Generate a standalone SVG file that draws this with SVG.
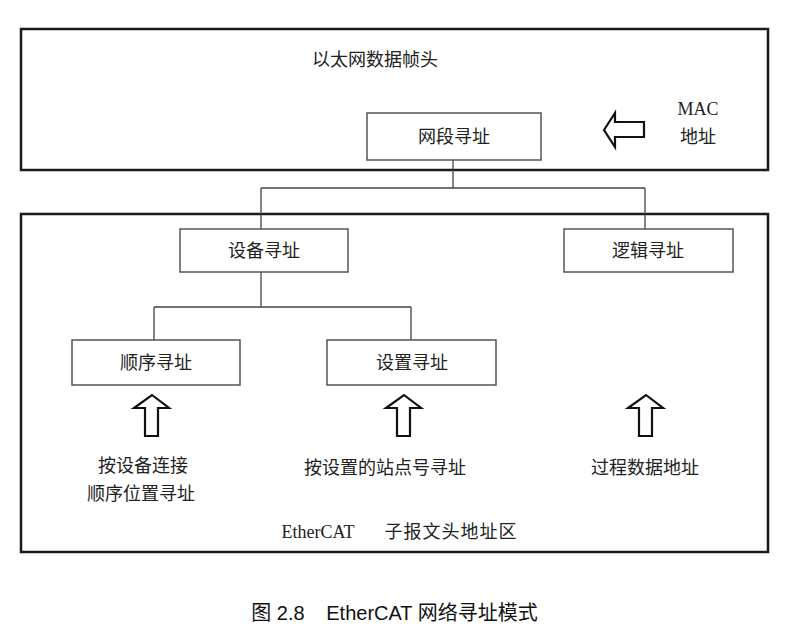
<svg xmlns="http://www.w3.org/2000/svg" width="808" height="636" viewBox="0 0 808 636">
<style>
.frame{fill:none;stroke:#1a1a1a;stroke-width:2.5}
.box{fill:#fff;stroke:#555;stroke-width:1.5}
.ln{fill:none;stroke:#444;stroke-width:1.3}
.arr{fill:#fff;stroke:#111;stroke-width:2.2;stroke-linejoin:miter}
text{font-family:"Liberation Serif","Noto Sans CJK SC",serif;font-size:18px;fill:#222;text-anchor:middle}
.cap{font-family:"Liberation Sans","Noto Sans CJK SC",sans-serif;font-size:20px;fill:#111}
</style>
<rect width="808" height="636" fill="#fff"/>
<g id="eth-frame">
<rect class="frame" x="21" y="29" width="747" height="141"/>
<text x="375" y="66">以太网数据帧头</text>
</g>
<g id="ecat-frame">
<rect class="frame" x="21" y="214" width="747" height="338"/>
<text x="318" y="538">EtherCAT</text>
<text x="451" y="538" letter-spacing="1">子报文头地址区</text>
</g>
<g id="connectors">
<path class="ln" d="M453 160V188M261 188H645M261 188V229M645 188V229"/>
<path class="ln" d="M261 272V307M154 307H411M154 307V340M411 307V340"/>
</g>
<g id="n-segment">
<rect class="box" x="367" y="113" width="174" height="47"/>
<text x="454" y="143">网段寻址</text>
</g>
<g id="n-device">
<rect class="box" x="180" y="229" width="168" height="43"/>
<text x="264" y="257">设备寻址</text>
</g>
<g id="n-logic">
<rect class="box" x="564" y="229" width="169" height="43"/>
<text x="648" y="257">逻辑寻址</text>
</g>
<g id="n-order">
<rect class="box" x="72" y="340" width="168" height="45"/>
<text x="156" y="369">顺序寻址</text>
</g>
<g id="n-set">
<rect class="box" x="327" y="340" width="169" height="45"/>
<text x="412" y="369">设置寻址</text>
</g>
<g id="mac">
<path class="arr" d="M604 130L615 113V122H644V137H615V147Z"/>
<text x="698" y="115">MAC</text>
<text x="698" y="143">地址</text>
</g>
<g id="src-order">
<path class="arr" d="M152 395L169 408H158V436H145V408H134Z"/>
<text x="143" y="472">按设备连接</text>
<text x="141" y="500">顺序位置寻址</text>
</g>
<g id="src-set">
<path class="arr" d="M404 395L421 408H410V436H397V408H386Z"/>
<text x="385" y="474">按设置的站点号寻址</text>
</g>
<g id="src-logic">
<path class="arr" d="M646 395L663 408H652V436H639V408H628Z"/>
<text x="645" y="474">过程数据地址</text>
</g>
<g id="caption">
<text class="cap" x="278" y="620">图 2.8</text>
<text class="cap" x="432" y="620">EtherCAT 网络寻址模式</text>
</g>
</svg>
